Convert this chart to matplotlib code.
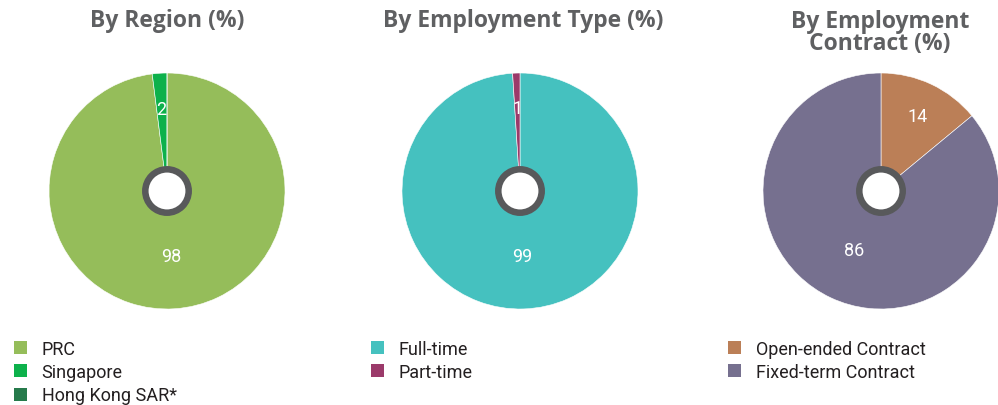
import matplotlib.pyplot as plt
from matplotlib.patches import Patch, Circle
import numpy as np

# data
region_labels = ["PRC", "Singapore", "Hong Kong SAR*"]
region_values = [98, 2, 0]
region_colors = ["#95bd5a", "#0db14b", "#267a4b"]

type_labels = ["Full-time", "Part-time"]
type_values = [99, 1]
type_colors = ["#45c1bf", "#9b3a6a"]

contract_labels = ["Open-ended Contract", "Fixed-term Contract"]
contract_values = [14, 86]
contract_colors = ["#bb7f57", "#76708f"]

titles = ["By Region (%)", "By Employment Type (%)", "By Employment\nContract (%)"]

W, H = 998, 406
fig = plt.figure(figsize=(W / 100, H / 100), dpi=100)
plt.rcParams['font.family'] = ['Roboto', 'DejaVu Sans']

R = 118
centers = [(167, 192), (520, 192), (881, 192)]
title_x = [167, 523, 880]
legend_x = [10, 367, 724]

charts = [(region_values, region_colors, region_labels),
          (type_values, type_colors, type_labels),
          (contract_values, contract_colors, contract_labels)]

for i, (vals, cols, labs) in enumerate(charts):
    cx, cy = centers[i]
    ax = fig.add_axes([(cx - R) / W, (H - cy - R) / H, 2 * R / W, 2 * R / H])
    wedges, _ = ax.pie(vals, colors=cols, startangle=90, counterclock=False,
                       radius=1, wedgeprops=dict(linewidth=0.4, edgecolor="white"))
    ax.set_xlim(-1, 1)
    ax.set_ylim(-1, 1)
    ax.set_aspect("equal")
    ax.axis("off")
    # value labels
    for w, v in zip(wedges, vals):
        if v == 0:
            continue
        mid = np.deg2rad((w.theta1 + w.theta2) / 2)
        d = 0.72 if v < 30 else 0.53
        ax.text(d * np.cos(mid), d * np.sin(mid) - 0.02, str(v), color="white",
                fontsize=13, ha="center", va="center")
    # center ring
    ax.add_patch(Circle((0, 0), 21.7 / R, facecolor="white", edgecolor="#58595b",
                        linewidth=4.7, zorder=5))
    # title
    ty = 21 if "\n" not in titles[i] else 33
    fig.text(title_x[i] / W, 1 - ty / H, titles[i], ha="center", va="center",
             fontsize=16.5, fontweight="bold", color="#5f6062", linespacing=0.92,
             family=["Open Sans", "DejaVu Sans"])
    # legend
    handles = [Patch(facecolor=c, edgecolor="none") for c in cols]
    fig.legend(handles, labs, loc="upper left",
               bbox_to_anchor=(legend_x[i] / W, 1 - 337 / H),
               frameon=False, fontsize=13, handlelength=0.75, handleheight=0.75,
               handletextpad=0.8, labelspacing=0.3, labelcolor="#231f20",
               borderaxespad=0, borderpad=0.2)

fig.savefig("out.png", dpi=100)
